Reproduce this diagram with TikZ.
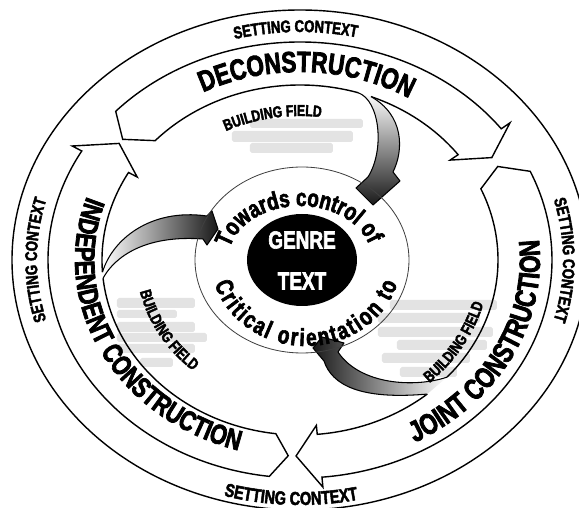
\documentclass[tikz,border=0pt]{standalone}
\usepackage{fontspec}
\setmainfont{Liberation Sans}
\newfontfamily\cond{Liberation Sans}[UprightFont={* Bold}, FakeBold=2.5, FakeStretch=0.77]
\usetikzlibrary{decorations.text}

\newcommand\bigfont{\cond\fontsize{24}{28}\selectfont}
\newcommand\ringfont{\cond\fontsize{14.5}{16}\selectfont}
\newcommand\fieldfont{\cond\fontsize{13.5}{15}\selectfont}
\newcommand\corefont{\cond\fontsize{21}{24}\selectfont}

\begin{document}
\begin{tikzpicture}[x=0.03cm, y=0.03cm,
    edge/.style={draw=black, line width=1.2pt, line join=miter},
    feeder/.style={draw=black, line width=0.9pt, line join=round},
    haze/.style={fill=black!11, rounded corners=1.5pt},
    along/.style={decorate, decoration={text along path, text align=center, text={#1}}},
    spread/.style={decorate, decoration={text along path, text align=fit to path, text={#1}}},
  ]
  \useasboundingbox (-300,-248) rectangle (279,260);

  %Notes under building field
  \foreach \xa/\ya/\xb/\yb in {-50/141/63/132, -68/129/53/118, -50/117/33/107,
      -183/-38/-105/-48, -183/-50/-123/-58, -183/-62/-105/-72, -183/-73/-93/-82,
      -183/-84/-105/-93, -160/-98/-127/-107,
      90/-40/197/-50, 78/-53/180/-63, 78/-67/193/-77, 97/-80/187/-90,
      82/-93/170/-103, 100/-107/157/-117}
    \path[haze] (\xa,\ya) rectangle (\xb,\yb);

  %Setting ring
  \draw[edge] (0,0) ellipse[x radius=288, y radius=250];
  \path[along={|\ringfont|SETTING CONTEXT}] (130:263 and 228) arc[start angle=130, end angle=52, x radius=263, y radius=228];
  \path[along={|\ringfont|SETTING CONTEXT}] (40:263 and 228) arc[start angle=40, end angle=-40, x radius=263, y radius=228];
  \path[along={|\ringfont|SETTING CONTEXT}] (220:263 and 228) arc[start angle=220, end angle=140, x radius=263, y radius=228];
  \path[along={|\cond\fontsize{16}{18}\selectfont|SETTING CONTEXT}] (-135:279 and 245) arc[start angle=-135, end angle=-49, x radius=279, y radius=245];

  %Cycle arrows
  \draw[edge] (73:198 and 175) arc[start angle=73, end angle=137, x radius=198, y radius=175]
    -- (142:225 and 196) -- (137:252 and 218)
    arc[start angle=137, end angle=37, x radius=252, y radius=218]
    -- (37:263 and 228) -- (31.5:225 and 196) -- (37:188 and 166) -- (37:198 and 175)
    arc[start angle=37, end angle=69, x radius=198, y radius=175];
  \draw[edge] (-42:198 and 175) arc[start angle=-42, end angle=24, x radius=198, y radius=175]
    -- (28.5:225 and 196) -- (24:252 and 218)
    arc[start angle=24, end angle=-85, x radius=252, y radius=218]
    -- (-85:263 and 228) -- (-91:225 and 196) -- (-85:188 and 166) -- (-85:198 and 175)
    arc[start angle=-85, end angle=-50, x radius=198, y radius=175];
  \draw[edge] (186:198 and 175) arc[start angle=186, end angle=263, x radius=198, y radius=175]
    -- (267:225 and 196) -- (263:252 and 218)
    arc[start angle=263, end angle=150, x radius=252, y radius=218]
    -- (150:263 and 228) -- (143.5:225 and 196) -- (150:188 and 166) -- (150:198 and 175)
    arc[start angle=150, end angle=184, x radius=198, y radius=175];

  \path[along={|\cond\fontsize{25}{28}\selectfont|DECONSTRUCTION}] (150:214 and 188) arc[start angle=150, end angle=26, x radius=214, y radius=188];
  \path[along={|\bigfont|INDEPENDENT CONSTRUCTION}] (130:225 and 198) arc[start angle=130, end angle=283, x radius=225, y radius=198];
  \path[along={|\cond\fontsize{25}{28}\selectfont|JOINT CONSTRUCTION}] (-96:240 and 208) arc[start angle=-96, end angle=44, x radius=240, y radius=208];

  %Building field feeders
  \draw[feeder, top color=white, bottom color=black!90]
    (73:198 and 175) .. controls (80,160) and (85,110) .. (68,83)
    -- (56,72) -- (73,55) -- (100,79) -- (93,88)
    .. controls (104,110) and (104,145) .. (69:198 and 175);
  \draw[feeder, left color=white, right color=black!90]
    (186:198 and 175) .. controls (-190,-5) and (-165,26) .. (-97,21)
    -- (-93,15) -- (-82,31) -- (-88,49) -- (-93,44)
    .. controls (-150,52) and (-188,20) .. (184:198 and 175);
  \draw[feeder, left color=black!90, right color=white]
    (-42:198 and 175) .. controls (115,-128) and (60,-125) .. (38,-92)
    -- (44,-83) -- (22,-77) -- (13,-88) -- (24,-101)
    .. controls (32,-125) and (60,-140) .. (-50:198 and 175);

  \path[along={|\fieldfont|BUILDING FIELD}] (140:166 and 144) arc[start angle=140, end angle=60, x radius=166, y radius=144];
  \path[along={|\fieldfont|BUILDING FIELD}] (170:164 and 146) arc[start angle=170, end angle=250, x radius=164, y radius=146];
  \path[along={|\fieldfont|BUILDING FIELD}] (-70:190 and 168) arc[start angle=-70, end angle=10, x radius=190, y radius=168];

  %Core
  \draw[line width=0.7pt, black!75] (2,0) ellipse[x radius=107, y radius=93];
  \fill[black] (2,0) ellipse[x radius=55, y radius=46];
  \node[text=white, font=\corefont] (genre) at (2,20) {GENRE};
  \node[text=white, font=\corefont] (text) at (2,-21) {TEXT};
  \path[along={|\corefont|Towards control of}] (200:72 and 54) arc[start angle=200, end angle=-16, x radius=72, y radius=54];
  \path[spread={|\corefont|Critical orientation to}] ([shift={(6,0)}]196:95 and 86) arc[start angle=196, end angle=344, x radius=95, y radius=86];
\end{tikzpicture}
\end{document}
